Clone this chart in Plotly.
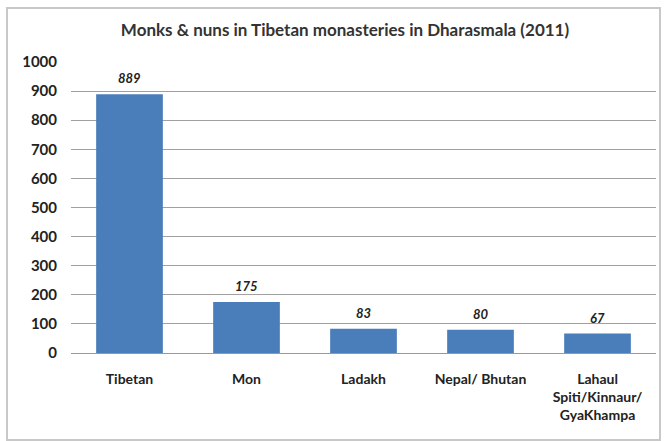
import plotly.graph_objects as go

categories = ["Tibetan", "Mon", "Ladakh", "Nepal/ Bhutan", "Lahaul<br>Spiti/Kinnaur/<br>GyaKhampa"]
values = [889, 175, 83, 80, 67]
labels = ["889", "175", "83", "80", "67"]
title = "Monks & nuns in Tibetan monasteries in Dharasmala (2011)"

fig = go.Figure(go.Bar(
    x=categories, y=values,
    marker=dict(color="#4A7EBB", line=dict(width=0)),
))

for c, v, t in zip(categories, values, labels):
    fig.add_annotation(x=c, y=v, text="<b><i>" + t + "</i></b>", showarrow=False,
                       yanchor="middle", yshift=16,
                       font=dict(family="Lato", size=13, color="#222222"))

L, R, T, B = 71, 10, 62, 88
W, H = 666, 441
pw, ph = W - L - R, H - T - B

fig.update_layout(
    width=W, height=H,
    margin=dict(l=L, r=R, t=T, b=B),
    paper_bgcolor="white", plot_bgcolor="white",
    bargap=0.43,
    showlegend=False,
    title=dict(text="<b>" + title + "</b>", x=345 / W, xanchor="center", y=1 - 30 / H, yanchor="middle",
               font=dict(family="Lato", size=17, color="#333333")),
    font=dict(family="Lato", color="#222222"),
    xaxis=dict(showgrid=False, showline=True, linecolor="#999999", linewidth=1,
               tickfont=dict(family="Lato", size=14, color="#222222", weight="bold"), ticks="",
               ticklabelstandoff=13),
    yaxis=dict(range=[0, 1000], dtick=100, showgrid=True, gridcolor="#a0a0a0", gridwidth=1,
               showline=False, zeroline=False, ticks="", ticklabelstandoff=13,
               tickfont=dict(family="Lato", size=15, color="#222222", weight="bold")),
    shapes=[dict(type="rect", xref="paper", yref="paper",
                 x0=(7 - L) / pw, x1=(660 - L) / pw, y0=(H - B - 440) / ph, y1=(H - B - 8) / ph,
                 line=dict(color="#c8c8c8", width=2), fillcolor="rgba(0,0,0,0)", layer="below")],
)

fig.write_html("out.html")
